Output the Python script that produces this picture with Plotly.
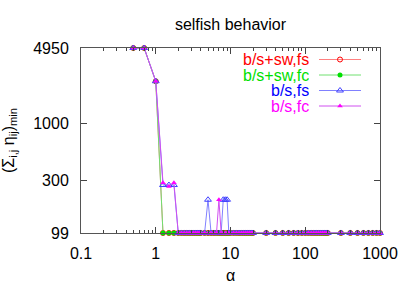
import math
import plotly.graph_objects as go

# ---- data ----
alpha = [0.5, 0.7, 1, 1.25, 1.5, 1.75,
         2, 2.2, 2.4, 2.6, 2.8, 3, 3.2, 3.4, 3.6, 3.8, 4,
         4.5, 5, 5.5, 6, 6.5, 7, 7.5, 8, 8.5, 9, 9.5, 10,
         11, 12, 13, 14, 15, 16, 17, 18, 19, 20,
         30, 40, 50, 60, 70, 80, 90,
         100, 110, 120, 130, 140, 150, 160, 170, 180, 190, 200,
         300, 400, 500, 600, 700, 800, 900, 1000]

bs_sw_fs = [4950, 4950, 2450, 99, 99, 99,
            99, 99, 99, 99, 99, 99, 99, 99, 99, 99, 99,
            99, 99, 99, 99, 99, 99, 99, 99, 99, 99, 99, 99,
            99, 99, 99, 99, 99, 99, 99, 99, 99, 99,
            99, 99, 99, 99, 99, 99, 99,
            99, 99, 99, 99, 99, 99, 99, 99, 99, 99, 99,
            99, 99, 99, 99, 99, 99, 99, 99]

bs_sw_fc = [4950, 4950, 2450, 99, 99, 99,
            99, 99, 99, 99, 99, 99, 99, 99, 99, 99, 99,
            99, 99, 99, 99, 99, 99, 99, 99, 99, 99, 99, 99,
            99, 99, 99, 99, 99, 99, 99, 99, 99, 99,
            99, 99, 99, 99, 99, 99, 99,
            99, 99, 99, 99, 99, 99, 99, 99, 99, 99, 99,
            99, 99, 99, 99, 99, 99, 99, 99]

bs_fs = [4950, 4950, 2450, 273, 273, 273,
         99, 99, 99, 99, 99, 99, 99, 99, 99, 99, 99,
         99, 200, 99, 99, 99, 99, 99, 200, 200, 200, 99, 99,
         99, 99, 99, 99, 99, 99, 99, 99, 99, 99,
         99, 99, 99, 99, 99, 99, 99,
         99, 99, 99, 99, 99, 99, 99, 99, 99, 99, 99,
         99, 99, 99, 99, 99, 99, 99, 99]

bs_fc = [4950, 4950, 2450, 287, 265, 287,
         99, 99, 99, 99, 99, 99, 99, 99, 99, 99, 99,
         99, 99, 99, 99, 99, 200, 99, 99, 99, 99, 99, 99,
         99, 99, 99, 99, 99, 99, 99, 99, 99, 99,
         99, 99, 99, 99, 99, 99, 99,
         99, 99, 99, 99, 99, 99, 99, 99, 99, 99, 99,
         99, 99, 99, 99, 99, 99, 99, 99]

series_names = ["b/s+sw,fs", "b/s+sw,fc", "b/s,fs", "b/s,fc"]
x_ticks = [0.1, 1, 10, 100, 1000]
x_ticklabels = ["0.1", "1", "10", "100", "1000"]
y_ticks = [99, 300, 1000, 4950]
y_ticklabels = ["99", "300", "1000", "4950"]

# ---- styles ----
FONT = "Liberation Sans, Arial, sans-serif"
styles = [
    dict(text="#ff0000", line="#ff8080", marker=dict(symbol="circle-open", size=5, color="#ff0000", line=dict(width=1))),
    dict(text="#00e000", line="#70e070", marker=dict(symbol="circle", size=5, color="#00e000")),
    dict(text="#0000ff", line="#8080ff", marker=dict(symbol="triangle-up-open", size=6, color="#4040ff", line=dict(width=1))),
    dict(text="#ff00ff", line="#d050f0", marker=dict(symbol="triangle-up", size=5, color="#ff00ff")),
]
data = [bs_sw_fs, bs_sw_fc, bs_fs, bs_fc]

W, H = 407, 285
L, R, T, B = 81, 380, 48, 233

fig = go.Figure()
for name, vals, st in zip(series_names, data, styles):
    fig.add_trace(go.Scatter(
        x=alpha, y=vals, mode="lines+markers", name=name,
        line=dict(color=st["line"], width=1),
        marker=st["marker"], cliponaxis=False, showlegend=False))

# legend keys (gnuplot style: text then sample), drawn on an overlay pixel axis
rows = [59.5, 75, 90.5, 106]
for name, st, ry in zip(series_names, styles, rows):
    fig.add_trace(go.Scatter(x=[319, 361], y=[ry, ry], mode="lines",
                             line=dict(color=st["line"], width=1),
                             xaxis="x2", yaxis="y2", showlegend=False, hoverinfo="skip"))
    fig.add_trace(go.Scatter(x=[340], y=[ry], mode="markers", marker=st["marker"],
                             xaxis="x2", yaxis="y2", showlegend=False, hoverinfo="skip",
                             cliponaxis=False))
    fig.add_annotation(x=311, y=ry, xref="x2", yref="y2", text=name, showarrow=False,
                       xanchor="right", yanchor="middle", height=15,
                       font=dict(family=FONT, size=16, color=st["text"]))

fig.update_layout(
    width=W, height=H,
    margin=dict(l=L, r=W - R, t=T, b=H - B, autoexpand=False),
    paper_bgcolor="white", plot_bgcolor="white",
    font=dict(family=FONT, size=16, color="black"),
    title=dict(text="selfish behavior", x=0.5, xref="paper", y=1 - 24 / H,
               yanchor="middle", xanchor="center", font=dict(size=16)),
    xaxis=dict(type="log", range=[-1, 3], tickvals=x_ticks, ticktext=x_ticklabels,
               ticks="inside", ticklen=6, tickcolor="#444", showline=True,
               linecolor="#555", linewidth=1, mirror="allticks", showgrid=False,
               zeroline=False, ticklabelstandoff=6, automargin=False,
               minor=dict(ticks="inside", ticklen=3, tickcolor="#444", dtick="D1", showgrid=False),
               title=dict(text="α", standoff=8, font=dict(size=16))),
    yaxis=dict(type="log", range=[math.log10(99) - 1e-4, math.log10(4950) + 1e-6],
               tickvals=y_ticks, ticktext=y_ticklabels,
               ticks="inside", ticklen=6, tickcolor="#444", showline=True,
               linecolor="#555", linewidth=1, mirror="allticks", showgrid=False,
               zeroline=False, ticklabelstandoff=8, automargin=False,
               title=dict(text="(Σ<sub>i,j</sub> η<sub>ij</sub>)<sub>min</sub>", standoff=14,
                          font=dict(size=16))),
    xaxis2=dict(overlaying="x", range=[L, R], visible=False, anchor="y2", automargin=False),
    yaxis2=dict(overlaying="y", range=[B, T], visible=False, anchor="x2", automargin=False),
)

fig.write_html("out.html", config={"displayModeBar": False},
               post_script="document.body.style.margin='0px';")
